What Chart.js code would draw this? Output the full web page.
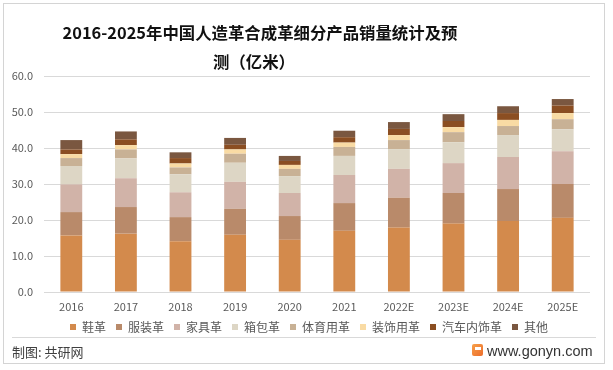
<!DOCTYPE html>
<html lang="zh-CN">
<head>
<meta charset="utf-8">
<title>人造革合成革细分产品销量</title>
<script src="https://cdn.jsdelivr.net/npm/chart.js@4.4.1/dist/chart.umd.min.js"></script>
<style>
    html, body { margin: 0; padding: 0; background: #ffffff; }
    #cadre {
        position: relative;
        width: 613px;
        height: 370px;
        overflow: hidden;
        font-family: "Noto Sans CJK SC", "Noto Sans", sans-serif;
    }
    #bordure {
        position: absolute;
        left: 3px; top: 3px;
        width: 602px; height: 361px;
        border: 1px solid #d4d4d4;
        box-sizing: border-box;
    }
    #separateur {
        position: absolute;
        left: 12px; top: 337px;
        width: 584px; height: 1px;
        background: #d9d9d9;
    }
    #source {
        position: absolute;
        left: 12px; top: 342px;
        font-size: 13px;
        color: #404040;
        line-height: 20px;
    }
    #site {
        position: absolute;
        left: 487px; top: 341px;
        font-family: "Liberation Sans", Arial, sans-serif;
        font-size: 14.5px;
        color: #333333;
        line-height: 20px;
    }
    #logo {
        position: absolute;
        left: 472px; top: 344px;
        width: 11px; height: 12px;
        background: linear-gradient(135deg, #f7a04a, #ec6d2c);
        border-radius: 2px;
    }
    #logo::after {
        content: "";
        position: absolute;
        left: 3px; top: 3px;
        width: 6px; height: 3px;
        background: #ffffff;
    }
    canvas { position: absolute; left: 0; top: 0; }
</style>
</head>
<body>
<div id="cadre">
    <canvas id="venteChart" width="613" height="370"></canvas>
    <div id="bordure"></div>
    <div id="separateur"></div>
    <div id="source">制图: 共研网</div>
    <div id="logo"></div>
    <div id="site">www.gonyn.com</div>
</div>

<script>
// Données (亿米)
const annees = ['2016', '2017', '2018', '2019', '2020', '2021', '2022E', '2023E', '2024E', '2025E'];
const xieGe = [15.7, 16.2, 14.1, 15.9, 14.5, 17.0, 17.9, 19.0, 19.7, 20.6];
const fuzhuangGe = [6.5, 7.4, 6.7, 7.2, 6.6, 7.7, 8.3, 8.5, 8.9, 9.4];
const jiajuGe = [7.7, 8.0, 6.9, 7.5, 6.4, 7.8, 8.0, 8.3, 8.9, 9.1];
const xiangbaoGe = [5.1, 5.5, 5.0, 5.3, 4.7, 5.3, 5.5, 5.8, 6.1, 6.1];
const tiyuGe = [2.2, 2.5, 1.9, 2.5, 2.0, 2.5, 2.5, 2.8, 2.5, 2.8];
const zhuangshiGe = [1.1, 1.2, 1.1, 1.2, 1.1, 1.2, 1.4, 1.4, 1.7, 1.7];
const qicheGe = [1.3, 1.6, 1.5, 1.3, 1.1, 1.5, 1.7, 1.7, 1.9, 2.1];
const qitaGe = [2.6, 2.2, 1.6, 1.9, 1.4, 1.8, 1.9, 1.9, 1.9, 1.8];

const nomsSeries = ['鞋革', '服装革', '家具革', '箱包革', '体育用革', '装饰用革', '汽车内饰革', '其他'];
const titreLignes = ['2016-2025年中国人造革合成革细分产品销量统计及预', '测（亿米）'];

const couleurs = ['#d38a4c', '#b98a6a', '#d1b3a8', '#ddd6c5', '#c8b195', '#f9dba4', '#8b4e22', '#7a5740'];
const police = '"Noto Sans CJK SC", "Noto Sans", sans-serif';

// Titre dessiné à la main (il n'est pas centré sur le canvas)
const titrePlugin = {
    id: 'titreDecale',
    afterDraw(chart) {
        const ctx = chart.ctx;
        ctx.save();
        ctx.fillStyle = '#111111';
        ctx.font = 'bold 16.4px ' + police;
        ctx.textAlign = 'center';
        ctx.textBaseline = 'middle';
        ctx.fillText(titreLignes[0], 260, 33);
        ctx.fillText(titreLignes[1], 254, 62);
        ctx.restore();
    }
};

// Décale la légende vers la droite (centrée vers x=309 dans l'original)
const decalageLegende = {
    id: 'decalageLegende',
    afterLayout(chart) {
        if (chart.legend) {
            chart.legend.left += 14;
            chart.legend.right += 14;
        }
    }
};

function createVenteChart() {
    const canvas = document.getElementById('venteChart');
    if (!canvas) {
        console.error('canvas venteChart non trouvé');
        return null;
    }
    const ctx = canvas.getContext('2d');

    const series = [xieGe, fuzhuangGe, jiajuGe, xiangbaoGe, tiyuGe, zhuangshiGe, qicheGe, qitaGe];
    const datasets = series.map((valeurs, i) => ({
        label: nomsSeries[i],
        data: valeurs,
        backgroundColor: couleurs[i],
        borderWidth: 0,
        barPercentage: 0.5,
        categoryPercentage: 0.8
    }));

    return new Chart(ctx, {
        type: 'bar',
        data: { labels: annees, datasets: datasets },
        plugins: [titrePlugin, decalageLegende],
        options: {
            responsive: false,
            animation: false,
            layout: { padding: { top: 76, right: 23, bottom: 27, left: 0 } },
            scales: {
                x: {
                    stacked: true,
                    grid: { display: false, drawTicks: false },
                    border: { display: false },
                    ticks: {
                        color: '#595959',
                        font: { family: police, size: 11 },
                        padding: 8,
                        maxRotation: 0
                    },
                    afterFit(scale) { scale.height = 19; }
                },
                y: {
                    stacked: true,
                    min: 0,
                    max: 60,
                    grid: { color: '#d9d9d9', drawTicks: false },
                    border: { display: false },
                    ticks: {
                        stepSize: 10,
                        color: '#595959',
                        font: { family: police, size: 11 },
                        padding: 11,
                        callback: (v) => Number(v).toFixed(1)
                    },
                    afterFit(scale) { scale.width = 44; }
                }
            },
            plugins: {
                legend: {
                    position: 'bottom',
                    labels: {
                        boxWidth: 6,
                        boxHeight: 6,
                        padding: 10,
                        color: '#595959',
                        font: { family: police, size: 12 }
                    }
                },
                tooltip: { enabled: false }
            }
        }
    });
}

window.venteChart = createVenteChart();
</script>
</body>
</html>
